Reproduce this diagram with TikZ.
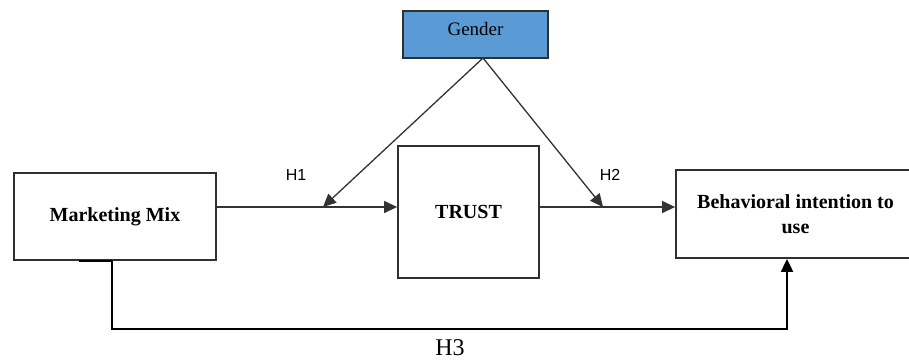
\documentclass[tikz,border=0pt]{standalone}
\usepackage{fontspec}
\setmainfont{Liberation Serif}
\setsansfont{Liberation Sans}
\usetikzlibrary{arrows.meta}
\definecolor{gblue}{HTML}{5B9BD5}
\definecolor{edge}{HTML}{303030}
\definecolor{arr}{HTML}{333333}
\begin{document}
\begin{tikzpicture}[x=1pt,y=-1pt,
  boxstyle/.style={draw=edge,line width=1.8pt,fill=white,inner sep=0pt},
  lbl/.style={font=\fontsize{20}{25}\selectfont\bfseries,align=center},
  hyp/.style={font=\sffamily\fontsize{16}{19}\selectfont},
  conn/.style={draw=arr,line width=1.3pt,-{Triangle[length=13pt,width=12pt]}}]
\useasboundingbox (0,0) rectangle (909,360);
\begin{scope}
\clip (0,0) rectangle (909,360);
\node[boxstyle,fill=gblue,minimum width=145pt,minimum height=47pt] (gender) at (475.5,34.5) {};
\node[font=\fontsize{19}{22}\selectfont] (gtext) at (475.5,29) {Gender};
\node[boxstyle,minimum width=202pt,minimum height=87pt,lbl] (mm) at (115,216.5) {Marketing Mix};
\node[boxstyle,minimum width=141pt,minimum height=132pt,lbl] (trust) at (468.5,212) {TRUST};
\node[boxstyle,minimum width=239pt,minimum height=88pt,lbl] (beh) at (795.5,214) {Behavioral intention to\\use};
\coordinate (gapex) at (483,58);
\coordinate (h1) at (323,207);
\coordinate (h2) at (603,207);
\coordinate (h3x) at (112,329);
\coordinate (h3e) at (787,329);
\draw[conn] (mm.east |- h1) -- (trust.west |- h1);
\draw[conn] (trust.east |- h2) -- (beh.west |- h2);
\draw[conn] (gapex) -- (h1);
\draw[conn] (gapex) -- (h2);
\draw[black,line width=2pt,-{Triangle[length=13pt,width=12pt]}] (mm.south -| h3x) -- (h3x) -- (h3e) -- (beh.south -| h3e);
\draw[black,line width=2.6pt] (79,261) -- (112,261);
\node[hyp] (lh1) at (296,175) {H1};
\node[hyp] (lh2) at (610,175) {H2};
\node[font=\fontsize{24}{28}\selectfont] (lh3) at (450,348) {H3};
\end{scope}
\end{tikzpicture}
\end{document}
